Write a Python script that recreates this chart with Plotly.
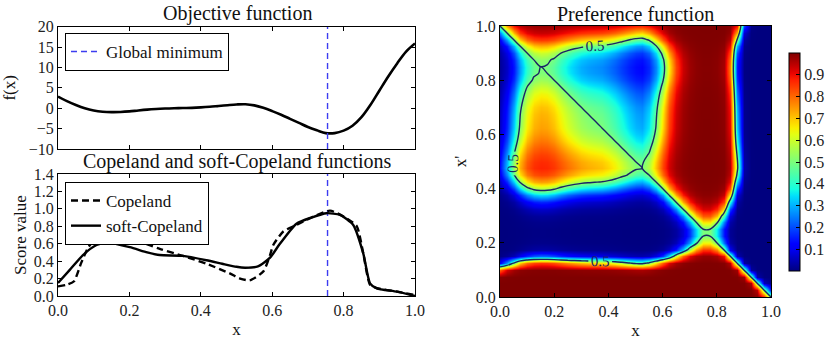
import numpy as np
import plotly.graph_objects as go

# objective f(x), every 0.025
x_obj = [round(0.025 * i, 3) for i in range(41)]
f_obj = [2.85, 1.75, 0.8, 0.0, -0.55, -0.85, -0.95, -0.92, -0.78, -0.55,
         -0.35, -0.2, -0.08, 0.0, 0.05, 0.1, 0.2, 0.35, 0.55, 0.75,
         0.92, 0.98, 0.7, 0.1, -0.7, -1.6, -2.6, -3.6, -4.6, -5.4,
         -6.1, -6.1, -5.5, -4.3, -2.2, 0.8, 4.3, 7.8, 11.0, 13.9, 15.9]
x_min = 0.755

# Copeland (dashed) and soft-Copeland (solid) scores
x_cop = [0.0, 0.025, 0.045, 0.065, 0.085, 0.11, 0.14, 0.164, 0.22, 0.285, 0.35,
         0.416, 0.481, 0.51, 0.537, 0.575, 0.594, 0.603, 0.631, 0.668, 0.715, 0.762,
         0.809, 0.837, 0.855, 0.874, 0.893, 0.95, 1.0]
y_cop = [0.11, 0.13, 0.17, 0.38, 0.56, 0.68, 0.75, 0.74, 0.64, 0.54, 0.46,
         0.37, 0.26, 0.2, 0.18, 0.28, 0.47, 0.585, 0.74, 0.815, 0.91, 0.98,
         0.89, 0.80, 0.49, 0.13, 0.09, 0.05, 0.01]
x_soft = [0.0, 0.033, 0.07, 0.108, 0.14, 0.201, 0.25, 0.285, 0.35, 0.416, 0.46, 0.5,
          0.524, 0.56, 0.594, 0.62, 0.668, 0.71, 0.752, 0.79, 0.827, 0.855, 0.874,
          0.893, 0.95, 1.0]
y_soft = [0.15, 0.3, 0.47, 0.585, 0.61, 0.56, 0.50, 0.47, 0.46, 0.41, 0.37, 0.335,
          0.325, 0.34, 0.44, 0.59, 0.83, 0.90, 0.95, 0.93, 0.815, 0.49, 0.146,
          0.088, 0.05, 0.0]

pref_ticks = [0.1, 0.2, 0.3, 0.4, 0.5, 0.6, 0.7, 0.8, 0.9]

# preference map: logistic link on f differences (x' axis shown top-down like imshow)
f_arr = np.array(f_obj)
pref = 1.0 / (1.0 + np.exp(-(f_arr[::-1][:, None] - f_arr[None, :])))


def jet(t):
    r = np.interp(t, [0, 0.35, 0.66, 0.89, 1], [0, 0, 1, 1, 0.5])
    g = np.interp(t, [0, 0.125, 0.375, 0.64, 0.91, 1], [0, 0, 1, 1, 0, 0])
    b = np.interp(t, [0, 0.11, 0.34, 0.65, 1], [0.5, 1, 1, 0, 0])
    return f"rgb({int(r*255)},{int(g*255)},{int(b*255)})"


jet_scale = [[t, jet(t)] for t in np.linspace(0, 1, 33)]

FONT = "Liberation Serif"
BLUE = "#3c3cf0"
NAVY = "#1b2466"
TICKS = dict(family=FONT, size=16, color="#222")

fig = go.Figure()

fig.add_trace(go.Scatter(x=x_obj, y=f_obj, mode="lines", line=dict(color="black", width=2.6, shape="spline"),
                         showlegend=False, xaxis="x", yaxis="y"))
fig.add_trace(go.Scatter(x=[x_min, x_min], y=[-10, 20], mode="lines", name="Global minimum",
                         line=dict(color=BLUE, width=1.4, dash="6px,4px"), xaxis="x", yaxis="y", legend="legend"))

fig.add_trace(go.Scatter(x=[x_min, x_min], y=[0, 1.4], mode="lines", showlegend=False,
                         line=dict(color=BLUE, width=1.4, dash="6px,4px"), xaxis="x2", yaxis="y2"))
fig.add_trace(go.Scatter(x=x_cop, y=y_cop, mode="lines", name="Copeland",
                         line=dict(color="black", width=2.4, dash="7px,4px", shape="spline", smoothing=0.6),
                         xaxis="x2", yaxis="y2", legend="legend2"))
fig.add_trace(go.Scatter(x=x_soft, y=y_soft, mode="lines", name="soft-Copeland",
                         line=dict(color="black", width=2.4, shape="spline", smoothing=0.6),
                         xaxis="x2", yaxis="y2", legend="legend2"))

fig.add_trace(go.Heatmap(x=x_obj, y=x_obj, z=pref, zmin=0, zmax=1, zsmooth="best", colorscale=jet_scale,
                         xaxis="x3", yaxis="y3", showlegend=False,
                         colorbar=dict(x=789 / 831, xanchor="left", thickness=11, thicknessmode="pixels",
                                       len=218 / 344, y=1 - 162 / 344, yanchor="middle", xpad=0, ypad=0,
                                       outlinecolor="black", outlinewidth=1,
                                       tickvals=pref_ticks, ticks="inside", ticklen=4, tickcolor="black",
                                       tickformat=".1f", tickfont=TICKS)))
fig.add_trace(go.Contour(x=x_obj, y=x_obj, z=pref, showscale=False, showlegend=False, xaxis="x3", yaxis="y3",
                         contours=dict(start=0.5, end=0.5, size=1, coloring="none", showlabels=True,
                                       labelfont=dict(family=FONT, size=15, color=NAVY)),
                         line=dict(color=NAVY, width=1.4), hoverinfo="skip"))

ax = dict(showline=True, linecolor="black", linewidth=1, mirror="ticks", ticks="inside", ticklen=4,
          tickcolor="black", showgrid=False, zeroline=False, tickfont=TICKS, automargin=False)
ttl = dict(family=FONT, size=17, color="#111")

fig.update_layout(
    template="none",
    width=831, height=344, margin=dict(l=0, r=0, t=0, b=0, autoexpand=False),
    paper_bgcolor="white", plot_bgcolor="white",
    font=dict(family=FONT, size=16, color="#111"),
    xaxis=dict(ax, domain=[58 / 831, 415 / 831], range=[0, 1], anchor="y", showticklabels=False,
               tickvals=[0, 0.2, 0.4, 0.6, 0.8, 1.0]),
    yaxis=dict(ax, domain=[1 - 149 / 344, 1 - 26.7 / 344], range=[-10, 20], anchor="x", dtick=5,
               title=dict(text="f(x)", standoff=12, font=ttl)),
    xaxis2=dict(ax, domain=[58 / 831, 415 / 831], range=[0, 1], anchor="y2", dtick=0.2, tickformat=".1f",
                title=dict(text="x", standoff=4, font=ttl)),
    yaxis2=dict(ax, domain=[1 - 296 / 344, 1 - 174 / 344], range=[0, 1.4], anchor="x2", dtick=0.2,
                tickformat=".1f", title=dict(text="Score value", standoff=2, font=ttl)),
    xaxis3=dict(ax, domain=[500 / 831, 771 / 831], range=[0, 1], anchor="y3", dtick=0.2, tickformat=".1f",
                title=dict(text="x", standoff=4, font=ttl)),
    yaxis3=dict(ax, domain=[1 - 297 / 344, 1 - 26 / 344], range=[0, 1], anchor="x3", dtick=0.2,
                tickformat=".1f", title=dict(text="x'", standoff=4, font=ttl)),
    legend=dict(x=65 / 831, y=1 - 33 / 344, xanchor="left", yanchor="top", bgcolor="white",
                bordercolor="black", borderwidth=1, itemwidth=30, tracegroupgap=0,
                font=dict(family=FONT, size=17)),
    legend2=dict(x=65 / 831, y=1 - 182 / 344, xanchor="left", yanchor="top", bgcolor="white",
                 bordercolor="black", borderwidth=1, itemwidth=30, tracegroupgap=0,
                 font=dict(family=FONT, size=17)),
    annotations=[
        dict(text="Objective function", x=237 / 831, y=1 - 14 / 344, xref="paper", yref="paper",
             xanchor="center", yanchor="middle", showarrow=False, font=dict(family=FONT, size=20)),
        dict(text="Copeland and soft-Copeland functions", x=237 / 831, y=1 - 162 / 344, xref="paper",
             yref="paper", xanchor="center", yanchor="middle", showarrow=False, font=dict(family=FONT, size=20)),
        dict(text="Preference function", x=635 / 831, y=1 - 14 / 344, xref="paper", yref="paper",
             xanchor="center", yanchor="middle", showarrow=False, font=dict(family=FONT, size=20)),
    ],
)

# drop the browser's default body margin so the figure sits at the page corner
fig.write_html("out.html", config={"displayModeBar": False},
               post_script="document.body.style.margin='0';")
